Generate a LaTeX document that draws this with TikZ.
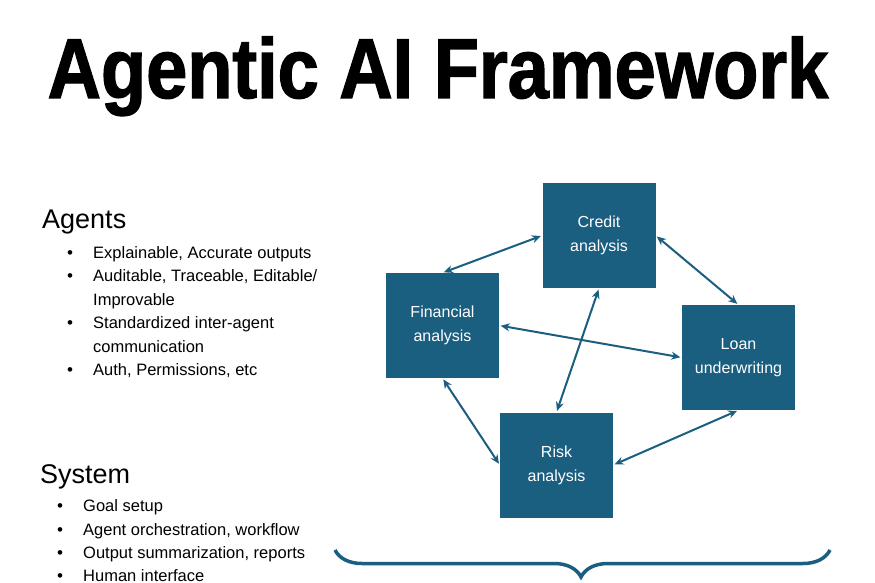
\documentclass[tikz,border=0pt]{standalone}
\usepackage{fontspec}
\setmainfont{Liberation Sans}
\newfontfamily\titlefont[FakeStretch=0.87,FakeBold=1.5]{Liberation Sans}
\usetikzlibrary{arrows.meta, decorations.pathreplacing}

\definecolor{boxblue}{RGB}{26,94,128}

\tikzset{
  agent/.style = {fill=boxblue, minimum width=113pt, minimum height=105pt,
                  text=white, align=center, inner sep=0pt,
                  font=\fontsize{16}{24}\selectfont},
  link/.style  = {{Stealth[length=9pt,width=8pt]}-{Stealth[length=9pt,width=8pt]},
                  boxblue, line width=2pt, shorten <=1.5pt, shorten >=1.5pt},
  head/.style  = {anchor=base west, inner sep=0pt, font=\fontsize{27}{30}\selectfont},
  item/.style  = {anchor=base west, inner sep=0pt, font=\fontsize{16.5}{20}\selectfont},
  dot/.style   = {anchor=base west, inner sep=0pt, font=\fontsize{17}{20}\selectfont}
}

\begin{document}
\begin{tikzpicture}[x=1pt, y=-1pt]
  \useasboundingbox[fill=white] (0,0) rectangle (875,583);

  % title
  \node[anchor=base, inner sep=0pt, font=\titlefont\bfseries\fontsize{85}{90}\selectfont]
    (title) at (438,98) {Agentic AI Framework};

  % agents list
  \node[head] (agents) at (42,228) {Agents};
  \node[item] (a1) at (93,258)   {Explainable, Accurate outputs};
  \node[item] (a2) at (93,281.5) {Auditable, Traceable, Editable/};
  \node[item] (a3) at (93,305)   {Improvable};
  \node[item] (a4) at (93,328.5) {Standardized inter-agent};
  \node[item] (a5) at (93,352)   {communication};
  \node[item] (a6) at (93,375.5) {Auth, Permissions, etc};
  \foreach \n in {a1, a2, a4, a6}
    \node[dot] (d\n) at ([xshift=-26pt]\n.base west) {\textbullet};

  % system list
  \node[head] (system) at (40,483) {System};
  \node[item] (s1) at (83,511.5) {Goal setup};
  \node[item] (s2) at (83,535)   {Agent orchestration, workflow};
  \node[item] (s3) at (83,558.5) {Output summarization, reports};
  \node[item] (s4) at (83,581)   {Human interface};
  \foreach \n in {s1, s2, s3, s4}
    \node[dot] (d\n) at ([xshift=-26pt]\n.base west) {\textbullet};

  % agent boxes
  \node[agent] (credit) at (599,235.5)   {Credit\\analysis};
  \node[agent] (fin)    at (442.5,325.5) {Financial\\analysis};
  \node[agent] (loan)   at (738.5,357.5) {Loan\\underwriting};
  \node[agent] (risk)   at (556.5,465)   {Risk\\analysis};

  \draw[link] (fin.north)   -- (credit.west);
  \draw[link] (credit.east) -- (loan.north);
  \draw[link] (credit.south) -- (risk.north);
  \draw[link] (fin.east)    -- (loan.west);
  \draw[link] (fin.south)   -- (risk.west);
  \draw[link] (risk.east)   -- (loan.south);

  % brace under the agents
  \coordinate (bl) at (335,550);
  \coordinate (br) at (830,550);
  \draw[boxblue, line width=3.5pt, decorate,
        decoration={brace, mirror, amplitude=27pt, aspect=0.497}] (bl) -- (br);
\end{tikzpicture}
\end{document}
